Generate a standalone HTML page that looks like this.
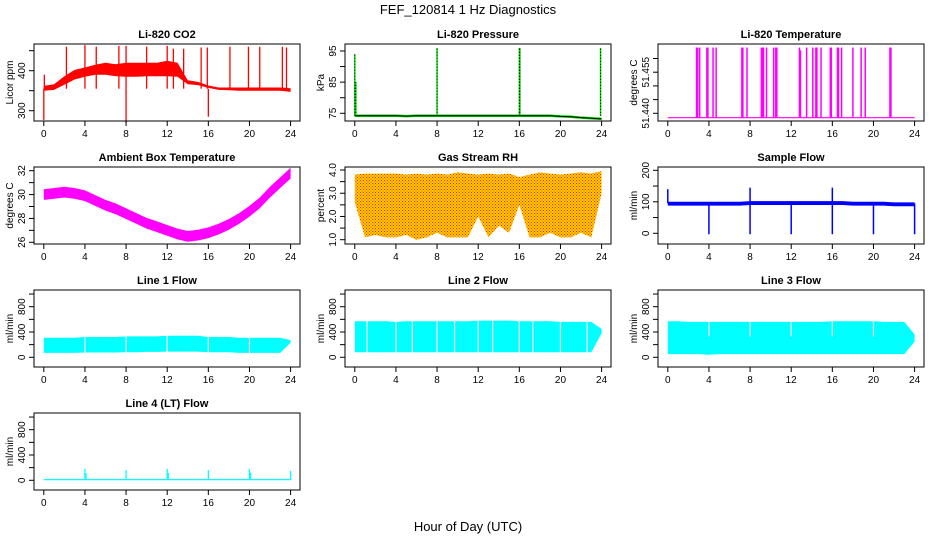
<!DOCTYPE html>
<html><head><meta charset="utf-8">
<style>
html,body{margin:0;padding:0;background:#fff;}
svg{display:block;font-family:"Liberation Sans",sans-serif;}
</style></head>
<body>
<svg id="c" width="936" height="540" viewBox="0 0 936 540" xmlns="http://www.w3.org/2000/svg">
<defs>
<pattern id="rhpat" width="3" height="3" patternUnits="userSpaceOnUse">
<rect width="3" height="3" fill="#ffd000"/>
<rect x="0" y="0" width="1" height="1" fill="#ff2000"/>
<rect x="1.5" y="1.5" width="1" height="1" fill="#ff2000"/>
</pattern>
</defs>
<text x="468" y="14" text-anchor="middle" font-size="13">FEF_120814  1 Hz Diagnostics</text>
<text x="468" y="531" text-anchor="middle" font-size="13">Hour of Day (UTC)</text>
</svg>
<script>
// ---- data arrays ----
const hours = [0,1,2,3,4,5,6,7,8,9,10,11,12,13,14,15,16,17,18,19,20,21,22,23,24];
const xTicks = [0,4,8,12,16,20,24];

const co2Lo = [350,352,365,378,385,390,390,386,385,385,386,386,386,385,366,364,357,352,351,350,350,350,350,350,347];
const co2Hi = [362,366,386,402,408,415,420,416,420,420,420,420,425,420,376,372,363,358,358,358,358,358,358,358,356];
const co2SpikeT = [0,0.05,2.2,4,5.1,7.3,8,8,10,12,12.6,13.6,15.3,15.9,16,18.1,19.9,21,23.2,23.6];
const co2SpikeV = [277,390,460,464,460,462,270,462,460,462,455,455,458,458,285,460,460,460,460,458];
const co2Base = 355;

const presBase = [74.2,74.2,74.2,74.2,74.2,74.1,74.2,74.2,74.2,74.2,74.2,74.2,74.2,74.2,74.2,74.2,74.2,74.2,74.2,74.2,74.0,73.9,73.6,73.4,73.2];
const presSpikeT = [0,0.1,8,16,16.05,23.9];
const presSpikeV = [94,85,96,96,96,96];

const tempBase = 51.4384;
const tempSpikeT = [2.8,2.9,3.1,3.8,3.9,4.4,4.7,7.2,7.3,7.7,9.1,9.2,9.3,9.6,10.3,10.5,10.6,12.8,12.9,13.5,14.1,14.4,14.5,14.9,15.8,15.9,16.5,16.6,16.9,18,18.8,19.2,21.6,21.7];
const tempSpikeV = [51.464,51.464,51.464,51.464,51.464,51.464,51.464,51.464,51.464,51.464,51.464,51.464,51.464,51.464,51.464,51.464,51.464,51.464,51.463,51.464,51.464,51.464,51.464,51.464,51.464,51.464,51.464,51.464,51.464,51.464,51.464,51.464,51.464,51.464];

const ambMid = [30.0,30.1,30.2,30.1,29.9,29.5,29.1,28.8,28.4,28.0,27.6,27.3,27.0,26.7,26.5,26.6,26.8,27.1,27.5,28.0,28.6,29.3,30.2,31.0,31.8];
const ambHalf = [0.45,0.45,0.45,0.45,0.45,0.45,0.45,0.45,0.45,0.45,0.45,0.45,0.45,0.45,0.45,0.45,0.45,0.45,0.45,0.45,0.45,0.45,0.45,0.45,0.45];

const rhHi = [3.8,3.85,3.85,3.85,3.85,3.8,3.85,3.8,3.85,3.8,3.9,3.85,3.8,3.85,3.8,3.85,3.7,3.8,3.9,3.85,3.8,3.85,3.9,3.85,3.95];
const rhLo = [2.6,1.1,1.2,1.1,1.1,1.2,1.0,1.1,1.3,1.1,1.1,1.1,2.0,1.1,1.6,1.3,2.5,1.1,1.1,1.3,1.1,1.1,1.3,1.1,3.0];

const sfLo = [88,88,88,88,88,88,88,88,90,90,90,90,90,90,90,90,90,90,88,88,88,88,86,86,86];
const sfHi = [100,100,100,100,100,100,100,100,102,102,102,102,102,102,102,102,102,102,100,100,100,100,98,98,98];
const sfSpikeT = [0,4,8,8,12,16,16,20,24];
const sfSpikeV = [140,-3,-3,145,-3,-3,145,-3,-3];

const l1Lo = [70,70,70,70,75,75,75,75,80,80,85,85,90,90,90,90,80,80,80,70,70,70,70,70,230];
const l1Hi = [310,310,310,310,320,320,320,320,330,330,330,330,340,340,340,340,320,320,320,310,310,310,310,310,270];
const l2Lo = [80,80,80,80,80,80,80,80,80,80,80,80,80,80,80,80,80,80,80,80,80,80,80,80,380];
const l2Hi = [570,570,570,570,560,570,570,570,570,570,570,570,580,580,580,580,570,570,570,570,560,560,560,560,450];
const l3Lo = [50,50,50,50,40,50,50,50,50,50,50,50,50,50,50,50,50,50,50,50,50,50,50,50,250];
const l3Hi = [570,570,560,560,560,560,560,560,560,560,560,560,560,560,560,560,570,570,570,570,570,560,560,560,360];
const lineGapT = [1.2,4,5.6,8,9.7,12,13.4,16,17.3,20,22.6];
const l4Lo = [0,0,0,0,0,0,0,0,0,0,0,0,0,0,0,0,0,0,0,0,0,0,0,0,0];
const l4Hi = [20,20,20,20,20,20,20,20,20,20,20,20,20,20,20,20,20,20,20,20,20,20,20,20,20];
const l4SpikeT = [4,4.1,8,12,12.1,16,20,20.1,24];
const l4SpikeV = [180,110,160,180,120,160,180,120,150];

// ---- layout ----
const NS="http://www.w3.org/2000/svg";
const svg=document.getElementById('c');
function mk(tag,attrs,parent){const e=document.createElementNS(NS,tag);for(const k in attrs)e.setAttribute(k,attrs[k]);(parent||svg).appendChild(e);return e;}
const colX=[34,345,658], rowY=[44,167,290,413], BW=266, BH=77;

function panel(name,col,row,title,ylab,v1,y1,v2,y2,ticks,labels){
  const bx=colX[col], by=rowY[row];
  const g=mk('g',{});
  
  
  const p={g,bx,by};
  p.x=t=>bx+9.8+t*(246.8/24);
  p.y=v=>by+y1+(v-v1)*(y2-y1)/(v2-v1);
  const t=mk('text',{x:bx+BW/2,y:by-6,'text-anchor':'middle','font-size':'11','font-weight':'bold'},g);
  t.textContent=title;
  
  
  p.plot=mk('g',{},g);
  const box=mk('rect',{x:bx,y:by,width:BW,height:BH,fill:'none',stroke:'#000','stroke-width':1},g);
  
  
  // x axis
  const xa=mk('g',{},g);
  
  
  mk('line',{x1:p.x(0),x2:p.x(24),y1:by+BH,y2:by+BH,stroke:'#000'},xa);
  xTicks.forEach(v=>{
    mk('line',{x1:p.x(v),x2:p.x(v),y1:by+BH,y2:by+BH+5,stroke:'#000'},xa);
    const tx=mk('text',{x:p.x(v),y:by+BH+16,'text-anchor':'middle','font-size':'10'},xa);
    tx.textContent=v;
  });
  // y axis
  const ya=mk('g',{},g);
  
  
  const ys=ticks.map(p.y);
  mk('line',{x1:bx,x2:bx,y1:Math.min(...ys),y2:Math.max(...ys),stroke:'#000'},ya);
  ticks.forEach((v,i)=>{
    mk('line',{x1:bx-5,x2:bx,y1:p.y(v),y2:p.y(v),stroke:'#000'},ya);
    if(labels[i]!==''){
      const tx=mk('text',{x:0,y:0,'text-anchor':'middle','font-size':'10',transform:`translate(${bx-9},${p.y(v)}) rotate(-90)`},ya);
      tx.textContent=labels[i];
    }
  });
  const yl=mk('text',{x:0,y:0,'text-anchor':'middle','font-size':'10',transform:`translate(${bx-21},${by+BH/2}) rotate(-90)`},g);
  yl.textContent=ylab;
  
  
  return p;
}
function band(p,lo,hi,fill,nm){
  let d='M'+hours.map((h,i)=>p.x(h)+','+p.y(hi[i])).join(' L');
  d+=' L'+hours.slice().reverse().map((h,k)=>{const i=hours.length-1-k;return p.x(h)+','+p.y(lo[i]);}).join(' L')+' Z';
  const e=mk('path',{d,fill,stroke:'none'},p.plot);
  
  
}
function line(p,vals,color,w,nm){
  const e=mk('polyline',{points:hours.map((h,i)=>p.x(h)+','+p.y(vals[i])).join(' '),fill:'none',stroke:color,'stroke-width':w},p.plot);
  
  
}
function spikes(p,ts,vs,base,color,w,nm,dash){
  ts.forEach((t,i)=>{
    const b=typeof base==='number'?base:base(t);
    const e=mk('line',{x1:p.x(t),x2:p.x(t),y1:p.y(b),y2:p.y(vs[i]),stroke:color,'stroke-width':w},p.plot);
    if(dash)e.setAttribute('stroke-dasharray',dash);
    
    
  });
}
function gaps(p,ts,v0,v1,nm){
  ts.forEach(t=>{
    const e=mk('line',{x1:p.x(t),x2:p.x(t),y1:p.y(v0),y2:p.y(v1),stroke:'#fff','stroke-width':1.2},p.plot);
    
    
  });
}

// CO2
const pc=panel('co2',0,0,'Li-820 CO2','Licor ppm',400,26.7,300,66.7,[300,350,400,450],['300','','400','']);
band(pc,co2Lo,co2Hi,'#ff0000','co2-band');
spikes(pc,co2SpikeT,co2SpikeV,co2Base,'#ff0000',1.3,'co2-spike');

// Pressure
const pp=panel('pressure',1,0,'Li-820 Pressure','kPa',95,7,75,69.3,[75,80,85,90,95],['75','','85','','95']);
line(pp,presBase,'#00dd00',2.5,'pressure-line');
line(pp,presBase,'#000',1,'pressure-line-dots');
spikes(pp,presSpikeT,presSpikeV,74.2,'#00dd00',1.5,'pressure-spike');
spikes(pp,presSpikeT,presSpikeV,74.2,'#000',1,'pressure-spike-dots','1,2');

// Li-820 temperature
const pt=panel('li820-temp',2,0,'Li-820 Temperature','degrees C',51.440,69.3,51.455,28.2,[51.440,51.445,51.450,51.455,51.460],['51.440','','','51.455','']);
const tb=hours.map(()=>tempBase);
line(pt,tb,'#ff00ff',1.2,'li820-temp-line');
spikes(pt,tempSpikeT,tempSpikeV,tempBase,'#ff00ff',1.5,'li820-temp-spike');

// Ambient
const pa=panel('ambient',0,1,'Ambient Box Temperature','degrees C',32,3.7,26,75.3,[26,27,28,29,30,31,32],['26','','28','','30','','32']);
band(pa,ambMid.map((m,i)=>m-ambHalf[i]),ambMid.map((m,i)=>m+ambHalf[i]),'#ff00ff','ambient-band');

// Gas RH
const pr=panel('gas-rh',1,1,'Gas Stream RH','percent',4.0,3,1.0,72.7,[1.0,1.5,2.0,2.5,3.0,3.5,4.0],['1.0','','2.0','','3.0','','4.0']);
band(pr,rhLo,rhHi,'url(#rhpat)','gas-rh-band');

// Sample Flow
const ps=panel('sample-flow',2,1,'Sample Flow','ml/min',200,3.3,0,66.3,[0,50,100,150,200],['0','','100','','200']);
band(ps,sfLo,sfHi,'#0000ff','sample-flow-band');
spikes(ps,sfSpikeT,sfSpikeV,95,'#0000ff',1.5,'sample-flow-spike');

const flowTicks=[0,200,400,600,800,1000], flowLabels=['0','','400','','800',''];
const p1=panel('line1-flow',0,2,'Line 1 Flow','ml/min',0,67.3,800,16.7,flowTicks,flowLabels);
band(p1,l1Lo,l1Hi,'#00ffff','line1-flow-band');
gaps(p1,[4,8,12,16,20],40,360,'line1-flow-gap');
const p2=panel('line2-flow',1,2,'Line 2 Flow','ml/min',0,67.3,800,16.7,flowTicks,flowLabels);
band(p2,l2Lo,l2Hi,'#00ffff','line2-flow-band');
gaps(p2,lineGapT,60,600,'line2-flow-gap');
const p3=panel('line3-flow',2,2,'Line 3 Flow','ml/min',0,67.3,800,16.7,flowTicks,flowLabels);
band(p3,l3Lo,l3Hi,'#00ffff','line3-flow-band');
gaps(p3,[4,8,12,16,20],330,600,'line3-flow-gap');
const p4=panel('line4-flow',0,3,'Line 4 (LT) Flow','ml/min',0,67.3,800,16.7,flowTicks,flowLabels);
band(p4,l4Lo,l4Hi,'#00ffff','line4-flow-band');
spikes(p4,l4SpikeT,l4SpikeV,10,'#00ffff',1.3,'line4-flow-spike');
</script>
</body></html>
